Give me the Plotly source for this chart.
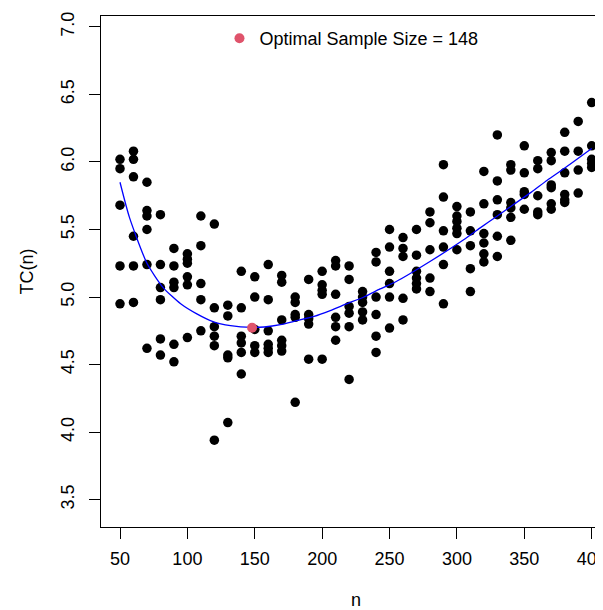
import plotly.graph_objects as go

# sample sizes and observed total cost TC(n), read column by column
n_obs = (
    [50] * 5 + [60] * 6 + [70] * 6 + [80] * 6 + [90] * 6 + [100] * 6 + [110] * 5 + [120] * 6
    + [130] * 5 + [140] * 6 + [150] * 5 + [160] * 6 + [170] * 6 + [180] * 5 + [190] * 5 + [200] * 5
    + [210] * 6 + [220] * 6 + [230] * 5 + [240] * 6 + [250] * 6 + [260] * 5 + [270] * 6 + [280] * 5
    + [290] * 6 + [300] * 6 + [310] * 5 + [320] * 6 + [330] * 6 + [340] * 6 + [350] * 5 + [360] * 5
    + [370] * 6 + [380] * 6 + [390] * 4 + [400] * 5
)
tc_obs = [
    6.02, 5.95, 5.68, 5.23, 4.95,
    6.08, 6.02, 5.89, 5.45, 5.23, 4.96,
    5.85, 5.64, 5.60, 5.50, 5.24, 4.62,
    5.61, 5.24, 5.07, 4.98, 4.69, 4.57,
    5.36, 5.23, 5.11, 5.07, 4.65, 4.52,
    5.32, 5.28, 5.25, 5.15, 5.09, 4.70,
    5.60, 5.38, 5.10, 4.98, 4.75,
    5.54, 4.92, 4.78, 4.71, 4.64, 3.94,
    4.94, 4.86, 4.57, 4.55, 4.07,
    5.19, 4.92, 4.71, 4.66, 4.59, 4.43,
    5.15, 5.00, 4.76, 4.64, 4.59,
    5.24, 4.98, 4.75, 4.65, 4.62, 4.59,
    5.16, 5.11, 4.83, 4.68, 4.64, 4.60,
    5.00, 4.96, 4.87, 4.85, 4.22,
    5.13, 4.87, 4.84, 4.80, 4.54,
    5.19, 5.09, 5.05, 5.02, 4.54,
    5.27, 5.23, 5.02, 4.85, 4.78, 4.68,
    5.23, 5.13, 4.93, 4.88, 4.78, 4.39,
    5.04, 5.00, 4.96, 4.89, 4.83,
    5.33, 5.26, 5.00, 4.87, 4.71, 4.59,
    5.50, 5.37, 5.19, 5.10, 5.00, 4.77,
    5.44, 5.36, 5.30, 4.99, 4.83,
    5.50, 5.31, 5.19, 5.14, 5.10, 5.06,
    5.63, 5.55, 5.35, 5.14, 5.04,
    5.98, 5.74, 5.49, 5.37, 5.24, 4.95,
    5.67, 5.60, 5.56, 5.51, 5.47, 5.35,
    5.63, 5.49, 5.38, 5.21, 5.04,
    5.93, 5.69, 5.47, 5.40, 5.32, 5.26,
    6.20, 5.86, 5.72, 5.61, 5.45, 5.30,
    5.98, 5.94, 5.70, 5.66, 5.59, 5.42,
    6.12, 5.92, 5.78, 5.76, 5.65,
    6.01, 5.95, 5.75, 5.63, 5.61,
    6.07, 6.01, 5.83, 5.81, 5.69, 5.65,
    6.22, 6.08, 5.92, 5.76, 5.72, 5.70,
    6.30, 6.08, 5.94, 5.77,
    6.44, 6.12, 6.02, 5.99, 5.96,
]

# fitted curve
curve_n = [50, 57, 70, 82, 95, 107, 119, 132, 148, 157, 169, 181, 194, 206, 218, 231, 243, 255,
           280, 305, 317, 330, 342, 355, 367, 380, 400]
curve_tc = [5.85, 5.59, 5.25, 5.07, 4.95, 4.875, 4.818, 4.788, 4.775, 4.778, 4.795, 4.825, 4.857,
            4.90, 4.949, 5.00, 5.06, 5.115, 5.263, 5.424, 5.51, 5.60, 5.685, 5.775, 5.865, 5.955, 6.10]

opt_n = [148]
opt_tc = [4.773]

x_ticks = [50, 100, 150, 200, 250, 300, 350, 400]
y_ticks = [3.5, 4.0, 4.5, 5.0, 5.5, 6.0, 6.5, 7.0]

fig = go.Figure()
fig.add_trace(go.Scatter(x=n_obs, y=tc_obs, mode='markers',
                         marker=dict(color='black', size=9.5, line=dict(width=0)),
                         showlegend=False, hoverinfo='skip'))
fig.add_trace(go.Scatter(x=curve_n, y=curve_tc, mode='lines',
                         line=dict(color='blue', width=1.3, shape='spline', smoothing=0.6),
                         showlegend=False))
fig.add_trace(go.Scatter(x=opt_n, y=opt_tc, mode='markers',
                         marker=dict(color='#DF536B', size=10, line=dict(width=0)),
                         name='Optimal Sample Size = 148'))

# page body has an 8px margin, so the figure is a little smaller and shifted
fig.update_layout(
    width=595, height=602,
    margin=dict(l=93, r=0, t=8, b=83),
    plot_bgcolor='white', paper_bgcolor='white',
    font=dict(family='Liberation Sans, Arial', size=18, color='black'),
    showlegend=True,
    legend=dict(x=0.236, xanchor='left', y=0.956, yanchor='middle',
                bgcolor='rgba(0,0,0,0)', itemwidth=30, font=dict(size=18)),
)
fig.update_xaxes(range=[35.9, 408.4], tickvals=x_ticks, ticks='outside', ticklen=11,
                 tickcolor='black', tickwidth=1, showline=True, linecolor='black', linewidth=1,
                 mirror=True, showgrid=False, zeroline=False, automargin=False,
                 ticklabelstandoff=4, ticklabeloverflow='allow')
fig.update_yaxes(range=[3.297, 7.081], tickvals=y_ticks, ticktext=['%.1f' % v for v in y_ticks],
                 tickangle=-90, ticks='outside', ticklen=11, tickcolor='black', tickwidth=1,
                 showline=True, linecolor='black', linewidth=1, showgrid=False, zeroline=False,
                 automargin=False, ticklabelstandoff=8)

fig.add_annotation(text='TC(n)', xref='paper', yref='paper', x=0, y=0.5, xshift=-75,
                   xanchor='center', yanchor='middle', textangle=-90, showarrow=False,
                   font=dict(size=18))
fig.add_annotation(text='n', xref='paper', yref='paper', x=0.507, y=0, yshift=-73,
                   xanchor='center', yanchor='middle', showarrow=False, font=dict(size=18))

fig.write_html("out.html")
